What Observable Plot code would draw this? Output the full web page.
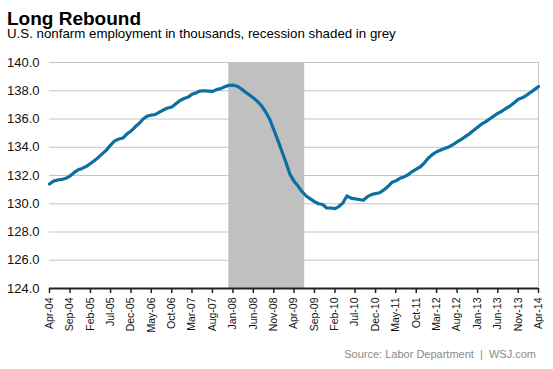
<!DOCTYPE html>
<html>
<head>
<meta charset="utf-8">
<script src="https://cdn.jsdelivr.net/npm/d3@7"></script>
<script src="https://cdn.jsdelivr.net/npm/@observablehq/plot@0.6"></script>
<style>
  html, body { margin: 0; padding: 0; background: #fff; }
  #wrap { position: relative; width: 553px; height: 369px; overflow: hidden; font-family: "Liberation Sans", Arial, sans-serif; }
  #title { position: absolute; left: 7px; top: 10.5px; font-size: 19px; line-height: 15px; font-weight: bold; color: #000; white-space: nowrap; }
  #subtitle { position: absolute; left: 7px; top: 28px; font-size: 13.3px; line-height: 12px; color: #000; white-space: nowrap; }
  #chart { position: absolute; left: 0; top: 48px; }
  #caption { position: absolute; right: 17px; top: 348px; font-size: 11px; color: #8a8a8a; white-space: nowrap; }
</style>
</head>
<body>
<div id="wrap">
  <div id="title">Long Rebound</div>
  <div id="subtitle">U.S. nonfarm employment in thousands, recession shaded in grey</div>
  <div id="chart"></div>
  <div id="caption">Source: Labor Department&nbsp; |&nbsp; WSJ.com</div>
</div>
<script>
// Monthly series start (first value = Apr 2004)
const startMonth = "2004-04";
// U.S. nonfarm employment, millions, Apr 2004 .. Apr 2014
const employment = [
  131.40, 131.60, 131.68, 131.72, 131.80, 131.96, 132.20, 132.40, 132.50, 132.65,
  132.85, 133.05, 133.28, 133.55, 133.80, 134.15, 134.45, 134.58, 134.65, 134.95,
  135.15, 135.45, 135.70, 136.00, 136.20, 136.28, 136.32, 136.48, 136.65, 136.78,
  136.85, 137.08, 137.30, 137.45, 137.55, 137.75, 137.85, 137.98, 138.00, 137.98,
  137.95, 138.08, 138.15, 138.28, 138.38, 138.40, 138.32, 138.15, 137.92, 137.72,
  137.50, 137.25, 136.95, 136.50, 136.00, 135.25, 134.50, 133.70, 132.90, 132.10,
  131.60, 131.25, 130.85, 130.55, 130.35, 130.15, 130.00, 129.95, 129.70, 129.70,
  129.65, 129.80, 130.05, 130.55, 130.40, 130.35, 130.30, 130.25, 130.50, 130.65,
  130.72, 130.78, 130.98, 131.20, 131.50, 131.62, 131.80, 131.90, 132.05, 132.28,
  132.45, 132.62, 132.90, 133.25, 133.50, 133.68, 133.80, 133.92, 134.02, 134.18,
  134.38, 134.55, 134.75, 134.95, 135.18, 135.42, 135.65, 135.80, 136.00, 136.20,
  136.40, 136.55, 136.75, 136.92, 137.15, 137.40, 137.50, 137.68, 137.88, 138.08,
  138.30
];
// X tick labels
const xTickLabels = ["Apr-04","Sep-04","Feb-05","Jul-05","Dec-05","May-06","Oct-06","Mar-07","Aug-07",
  "Jan-08","Jun-08","Nov-08","Apr-09","Sep-09","Feb-10","Jul-10","Dec-10","May-11","Oct-11",
  "Mar-12","Aug-12","Jan-13","Jun-13","Nov-13","Apr-14"];
// Y ticks
const yTicks = [124, 126, 128, 130, 132, 134, 136, 138, 140];
// Recession period
const recessionStart = ["2007-12-01"];
const recessionEnd = ["2009-06-20"];

const parseLabel = d3.utcParse("%b-%y");
const t0 = d3.utcParse("%Y-%m")(startMonth);
const data = employment.map((v, i) => ({date: d3.utcMonth.offset(t0, i), value: v}));
const xTicks = xTickLabels.map(parseLabel);
const recession = recessionStart.map((s, i) => ({start: new Date(s), end: new Date(recessionEnd[i])}));

const chart = Plot.plot({
  width: 553,
  height: 290,
  marginLeft: 49,
  marginRight: 15,
  marginTop: 14,
  marginBottom: 50,
  style: {fontFamily: "Liberation Sans, Arial, sans-serif", background: "#fff", color: "#111"},
  x: {type: "utc", domain: [xTicks[0], xTicks[xTicks.length - 1]]},
  y: {domain: [124, 140]},
  marks: [
    Plot.gridY(yTicks.slice(1), {stroke: "#c4c4c4", strokeOpacity: 1, strokeWidth: 1}),
    Plot.rect(recession, {x1: "start", x2: "end", fill: "#c0c0c0"}),
    Plot.ruleX([xTicks[xTicks.length - 1]], {y1: 124, y2: 140, stroke: "#c4c4c4", strokeWidth: 1}),
    Plot.ruleY([124], {stroke: "#222", strokeWidth: 2}),
    Plot.axisY({ticks: yTicks, tickFormat: d3.format(".1f"), tickSize: 0, tickPadding: 10, fontSize: 13, label: null}),
    Plot.axisX({ticks: xTicks, tickFormat: d3.utcFormat("%b-%y"), tickRotate: -90, tickSize: 5, tickPadding: 4, fontSize: 10.5, label: null, stroke: "#222", strokeWidth: 1.5}),
    Plot.line(data, {x: "date", y: "value", stroke: "#0b6fa1", strokeWidth: 3.2, curve: "linear"})
  ]
});
document.getElementById("chart").appendChild(chart);
</script>
</body>
</html>
